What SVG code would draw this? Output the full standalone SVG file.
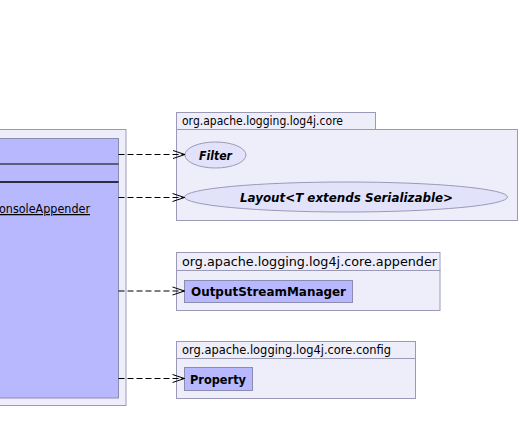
<svg xmlns="http://www.w3.org/2000/svg" width="520" height="444" viewBox="0 0 520 444">
<defs>
<style>
.pkg{fill:#eeeefb;stroke:#9a9ab8;stroke-width:1}
.cls{fill:#b8b8fe;stroke:#8c8cb0;stroke-width:1}
.ell{fill:#e2e2fa;stroke:#9a9ab8;stroke-width:1}
.plbl{font-family:"DejaVu Sans",sans-serif;font-size:12.5px;fill:#000}
.bold{font-family:"DejaVu Sans",sans-serif;font-size:13px;font-weight:bold;fill:#000}
.bi{font-family:"DejaVu Sans",sans-serif;font-size:13px;font-weight:bold;font-style:italic;fill:#000}
.dep{fill:none;stroke:#000;stroke-width:1;stroke-dasharray:6,3}
</style>
<marker id="open" markerUnits="userSpaceOnUse" markerWidth="14" markerHeight="12" refX="13" refY="6" orient="auto">
<path d="M1,2 L13,6 L1,10" fill="none" stroke="#000" stroke-width="1"/>
</marker>
</defs>
<rect width="520" height="444" fill="#fff"/>
<g id="pkg-left">
<rect class="pkg" x="-10" y="129.5" width="136" height="276"/>
</g>
<g id="ConsoleAppender">
<rect class="cls" x="-10" y="138.5" width="128.5" height="259.5"/>
<line x1="-10" y1="164" x2="118.5" y2="164" stroke="#000" stroke-width="1"/>
<line x1="-10" y1="182" x2="118.5" y2="182" stroke="#000" stroke-width="1.6"/>
<text x="90" y="213" text-anchor="end" class="plbl" font-size="13px" text-decoration="underline" textLength="91" lengthAdjust="spacingAndGlyphs">onsoleAppender</text>
</g>
<g id="pkg-core">
<rect class="pkg" x="176.5" y="112.5" width="199" height="17"/>
<rect class="pkg" x="176.5" y="129.5" width="341" height="91"/>
<text class="plbl" x="182" y="125" textLength="161" lengthAdjust="spacingAndGlyphs">org.apache.logging.log4j.core</text>
</g>
<g id="Filter">
<ellipse class="ell" cx="215.5" cy="155" rx="30.5" ry="13"/>
<text class="bi" x="199" y="159.5" textLength="33" lengthAdjust="spacingAndGlyphs">Filter</text>
</g>
<g id="Layout">
<ellipse class="ell" cx="346" cy="197" rx="161.5" ry="15"/>
<text class="bi" x="240" y="201.5" textLength="213" lengthAdjust="spacingAndGlyphs">Layout&lt;T extends Serializable&gt;</text>
</g>
<g id="pkg-appender">
<rect class="pkg" x="176.5" y="252.5" width="263.5" height="18"/>
<rect class="pkg" x="176.5" y="270.5" width="263.5" height="40"/>
<text class="plbl" x="182" y="266" textLength="255" lengthAdjust="spacingAndGlyphs">org.apache.logging.log4j.core.appender</text>
</g>
<g id="OutputStreamManager">
<rect class="cls" x="184.5" y="280.5" width="168" height="22"/>
<text class="bold" x="191" y="296" textLength="155" lengthAdjust="spacingAndGlyphs">OutputStreamManager</text>
</g>
<g id="pkg-config">
<rect class="pkg" x="176.5" y="341.5" width="239" height="17"/>
<rect class="pkg" x="176.5" y="358.5" width="239" height="40"/>
<text class="plbl" x="182" y="354" textLength="209" lengthAdjust="spacingAndGlyphs">org.apache.logging.log4j.core.config</text>
</g>
<g id="Property">
<rect class="cls" x="184.5" y="367.5" width="68" height="23"/>
<text class="bold" x="190" y="384" textLength="56" lengthAdjust="spacingAndGlyphs">Property</text>
</g>
<g id="connectors">
<path class="dep" d="M118.5,154.5 H185" marker-end="url(#open)"/>
<path class="dep" d="M118.5,197.5 H184.5" marker-end="url(#open)"/>
<path class="dep" d="M118.5,291 H184.5" marker-end="url(#open)"/>
<path class="dep" d="M118.5,378.5 H184.5" marker-end="url(#open)"/>
</g>
</svg>
